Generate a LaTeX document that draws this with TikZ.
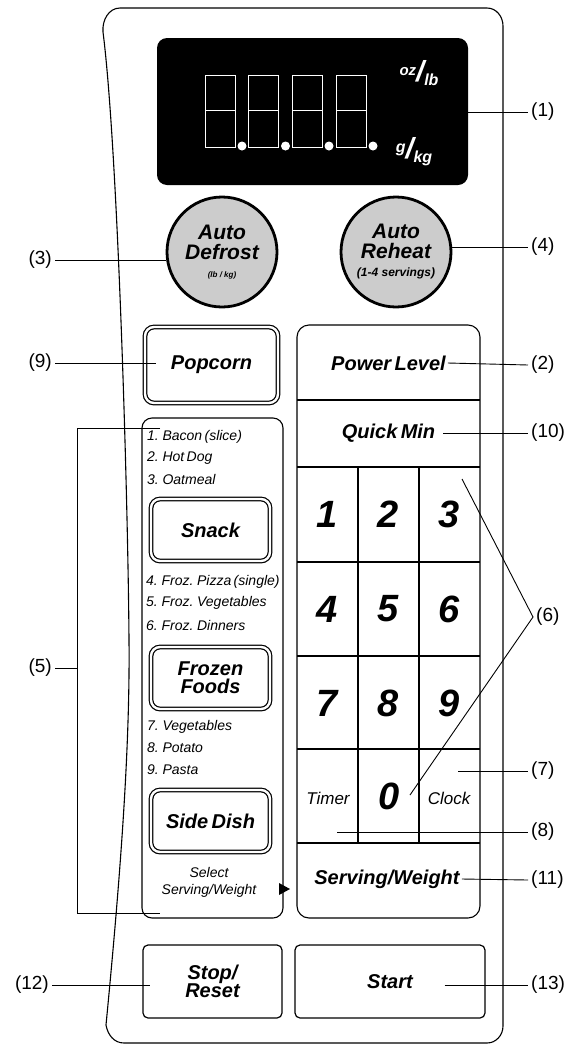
\documentclass[tikz,border=0pt]{standalone}
\usepackage{fontspec}
\setmainfont{Liberation Sans}
\usetikzlibrary{positioning}
\newcommand{\tightsp}{\spaceskip=0.17em plus 0.05em minus 0.05em\relax}
\tikzset{
  keytext/.style={font=\fontsize{20}{21}\selectfont\bfseries\itshape\tightsp, align=center, inner sep=2pt},
  digit/.style={font=\fontsize{38}{38}\selectfont\bfseries\itshape, inner sep=0pt},
  menu/.style={font=\fontsize{14}{15}\selectfont\itshape\tightsp, anchor=west, inner sep=0pt},
  softtext/.style={font=\fontsize{17}{18}\selectfont\itshape, inner sep=1pt},
  callout/.style={font=\fontsize{19}{20}\selectfont, inner sep=3pt},
  lead/.style={line width=0.9pt},
  frame/.style={line width=1.1pt},
  dblbtn/.style={draw, rounded corners=9pt, double=white, double distance=2.4pt, line width=1.2pt, keytext},
  plainbtn/.style={draw, rounded corners=5pt, line width=1.2pt, keytext},
  dial/.style={draw, circle, line width=2.8pt, fill=black!20, minimum size=110pt, inner sep=0pt, align=center,
    font=\fontsize{21}{21}\selectfont\bfseries\itshape},
  seg/.style={draw=white, line width=0.9pt},
  unit/.style={text=white, font=\bfseries\itshape, inner sep=0pt}
}
\begin{document}
\begin{tikzpicture}[x=1pt, y=-1pt]
    \useasboundingbox (0,0) rectangle (578,1047);
    % panel outline
    \draw[frame] (120,8) -- (487,8) to[out=0,in=90] (503,26) -- (503,1026) to[out=-90,in=0] (487,1043)
      -- (124,1043) to[out=180,in=-80] (106,1025)
      .. controls (122,860) and (130,740) .. (129,640)
      .. controls (128,500) and (118,150) .. (103,32) to[out=95,in=180] (120,8);
    % display
    \node[fill=black, rounded corners=10pt, minimum width=311pt, minimum height=147pt, inner sep=0pt] (display) at (312.5,111.5) {};
    \foreach \dx in {205,248.5,292,336} {
      \draw[seg] (\dx,75) rectangle ++(30,72);
      \draw[seg] (\dx,110) -- ++(30,0);
      \fill[white] (\dx+37,146) circle (4.5pt);
    }
    \node[unit] (ozlb) at (419,73) {\fontsize{15}{15}\selectfont\raisebox{6pt}{oz}\fontsize{29}{29}\selectfont/\fontsize{16}{16}\selectfont\raisebox{-4pt}{lb}};
    \node[unit] (gkg) at (414,152) {\fontsize{16}{16}\selectfont\raisebox{6pt}{g}\fontsize{29}{29}\selectfont/\fontsize{16}{16}\selectfont\raisebox{-4pt}{kg}};
    % auto dials
    \node[dial] (defrost) at (222,252) {Auto\\[-1pt]Defrost\\[-3pt]{\fontsize{8}{8}\selectfont(lb / kg)}};
    \node[dial] (reheat) at (396,252) {Auto\\[-1pt]Reheat\\[-3pt]{\fontsize{12}{12}\selectfont(1-4 servings)}};
    % left column
    \node[dblbtn, minimum width=133pt, minimum height=76pt] (popcorn) at (211.5,365) {Popcorn};
    \draw[frame, rounded corners=10pt] (142,418) rectangle (283,918);
    \node[menu] (item1) at (147,437) {1. Bacon (slice)};
    \node[menu] (item2) at (147,458) {2. Hot Dog};
    \node[menu] (item3) at (147,479) {3. Oatmeal};
    \node[dblbtn, minimum width=119pt, minimum height=62pt] (snack) at (210.5,530) {Snack};
    \node[menu] (item4) at (146,582) {4. Froz. Pizza (single)};
    \node[menu] (item5) at (146,603) {5. Froz. Vegetables};
    \node[menu] (item6) at (146,625) {6. Froz. Dinners};
    \node[dblbtn, minimum width=119pt, minimum height=62pt] (frozen) at (210.5,678) {Frozen\\[-3pt]Foods};
    \node[menu] (item7) at (147,727) {7. Vegetables};
    \node[menu] (item8) at (147,748) {8. Potato};
    \node[menu] (item9) at (147,770) {9. Pasta};
    \node[dblbtn, minimum width=119pt, minimum height=62pt] (sidedish) at (210.5,821) {Side Dish};
    \node[softtext, align=center, font=\fontsize{14}{17}\selectfont\itshape] (select) at (209,882) {Select\\Serving/Weight};
    \fill (279,883) -- (290,889) -- (279,895) -- cycle;
    % right column
    \draw[frame, rounded corners=12pt] (297,325) rectangle (480,918);
    \foreach \y in {400,467,562,656,749,843} \draw[frame] (297,\y) -- (480,\y);
    \foreach \x in {358,419} \draw[frame] (\x,467) -- (\x,843);
    \node[keytext] (power) at (388.5,363) {Power Level};
    \node[keytext] (quick) at (388.5,433) {Quick Min};
    \foreach \d/\cx/\cy in {1/327/514, 2/388/514, 3/449/514, 4/327/609, 5/388/609, 6/449/609, 7/327/703, 8/388/703, 9/449/703}
      \node[digit] (key\d) at (\cx,\cy) {\d};
    \node[digit] (key0) at (389,796) {0};
    \node[softtext] (timer) at (328,798) {Timer};
    \node[softtext] (clock) at (449,798) {Clock};
    \node[keytext] (serving) at (387,879) {Serving/Weight};
    % bottom keys
    \node[plainbtn, minimum width=139pt, minimum height=73pt] (stop) at (212.5,981.5) {Stop/\\[-3pt]Reset};
    \node[plainbtn, minimum width=190pt, minimum height=73pt] (start) at (390,981.5) {Start};
    % callouts right
    \node[callout, anchor=west] (lbl1) at (528,112) {(1)};
    \node[callout, anchor=west] (lbl4) at (528,247) {(4)};
    \node[callout, anchor=west] (lbl2) at (528,365) {(2)};
    \node[callout, anchor=west] (lbl10) at (528,433) {(10)};
    \node[callout, anchor=west] (lbl6) at (533,617) {(6)};
    \node[callout, anchor=west] (lbl7) at (528,771) {(7)};
    \node[callout, anchor=west] (lbl8) at (528,832) {(8)};
    \node[callout, anchor=west] (lbl11) at (528,880) {(11)};
    \node[callout, anchor=west] (lbl13) at (528,985) {(13)};
    % callouts left
    \node[callout, anchor=east] (lbl3) at (55,260) {(3)};
    \node[callout, anchor=east] (lbl9) at (55,363) {(9)};
    \node[callout, anchor=east] (lbl5) at (55,668) {(5)};
    \node[callout, anchor=east] (lbl12) at (52,985) {(12)};
    % leader lines
    \coordinate (sixtop) at (462,479);
    \coordinate (sixlow) at (410,795);
    \coordinate (clocktip) at (458,771);
    \coordinate (timertip) at (337,832);
    \coordinate (brkA) at (160,428);
    \coordinate (brkB) at (77,428);
    \coordinate (brkC) at (77,913);
    \coordinate (brkD) at (160,913);
    \draw[lead] (display.east |- lbl1.west) -- (lbl1.west);
    \draw[lead] (lbl4.west -| reheat.east) -- (lbl4.west);
    \draw[lead] (power.east) -- (lbl2.west);
    \draw[lead] (quick.east) ++(6,0) -- (lbl10.west);
    \draw[lead] (sixtop) -- (lbl6.west) -- (sixlow);
    \draw[lead] (clocktip) -- (lbl7.west);
    \draw[lead] (timertip) -- (lbl8.west);
    \draw[lead] (serving.east) -- (lbl11.west);
    \draw[lead] ([xshift=-41pt]start.east |- lbl13.west) -- (lbl13.west);
    \draw[lead] (lbl3.east) -- (lbl3.east -| defrost.188);
    \draw[lead] (lbl9.east) -- ([xshift=12pt]popcorn.west |- lbl9.east);
    \draw[lead] (brkA) -- (brkB) -- (brkC) -- (brkD);
    \draw[lead] (lbl5.east) -- (lbl5.east -| brkB);
    \draw[lead] (lbl12.east) -- ([xshift=8pt]stop.west |- lbl12.east);
\end{tikzpicture}
\end{document}
